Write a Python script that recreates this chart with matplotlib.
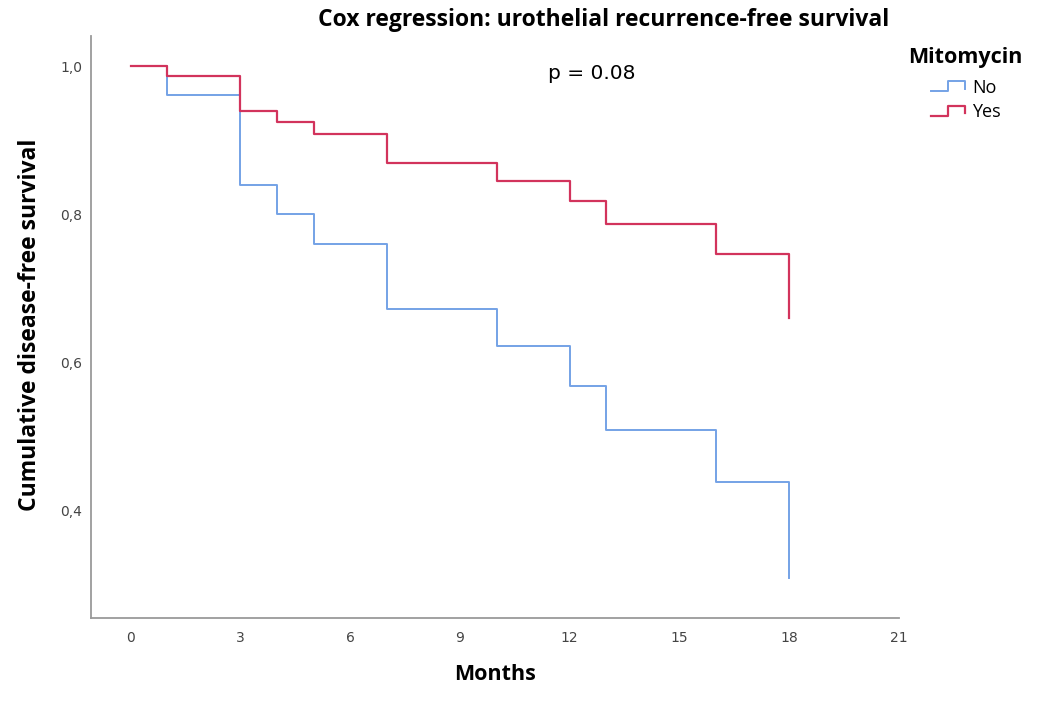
import matplotlib
matplotlib.use("Agg")
import matplotlib.pyplot as plt
from matplotlib.lines import Line2D
from matplotlib.legend_handler import HandlerBase

# Kaplan-Meier style step values
months_no = [0, 1, 3, 4, 5, 7, 10, 12, 13, 16, 18]
surv_no = [1.0, 0.961, 0.840, 0.800, 0.760, 0.672, 0.622, 0.568, 0.509, 0.439, 0.310]
months_yes = [0, 1, 3, 4, 5, 7, 10, 12, 13, 16, 18]
surv_yes = [1.0, 0.987, 0.940, 0.925, 0.908, 0.869, 0.845, 0.818, 0.787, 0.747, 0.660]

x_ticks = [0, 3, 6, 9, 12, 15, 18, 21]
y_ticks = [0.4, 0.6, 0.8, 1.0]
y_tick_labels = ["0,4", "0,6", "0,8", "1,0"]

blue = "#74a2e6"
red = "#d2335c"
font = "Open Sans"


class StepHandler(HandlerBase):
    # little step-shaped legend key like SPSS draws
    def create_artists(self, legend, orig_handle, xdescent, ydescent,
                       width, height, fontsize, trans):
        x0 = -xdescent
        y0 = -ydescent
        xs = [x0, x0 + 0.5 * width, x0 + 0.5 * width, x0 + width, x0 + width]
        ys = [y0 + 0.1 * height, y0 + 0.1 * height, y0 + 0.9 * height,
              y0 + 0.9 * height, y0 + 0.3 * height]
        line = Line2D(xs, ys, color=orig_handle.get_color(),
                      lw=orig_handle.get_linewidth(), transform=trans)
        return [line]


fig = plt.figure(figsize=(10.4, 7.06), dpi=100)
ax = fig.add_axes([0.0872, 0.1246, 0.7772, 0.8244])

l_no, = ax.step(months_no, surv_no, where="post", color=blue, lw=1.4, label="No")
l_yes, = ax.step(months_yes, surv_yes, where="post", color=red, lw=1.6, label="Yes")

ax.set_xlim(-1.095, 21)
ax.set_ylim(0.2556, 1.0405)
ax.set_xticks(x_ticks)
ax.set_yticks(y_ticks)
ax.set_yticklabels(y_tick_labels)
ax.tick_params(length=0, labelsize=10, labelcolor="#444444")
ax.tick_params(axis="y", pad=6)
ax.tick_params(axis="x", pad=9)
for lab in ax.get_xticklabels() + ax.get_yticklabels():
    lab.set_family("DejaVu Sans")

for s in ["top", "right"]:
    ax.spines[s].set_visible(False)
for s in ["left", "bottom"]:
    ax.spines[s].set_color("#9a9a9a")
    ax.spines[s].set_linewidth(1.3)

fig.text(0.58, 0.972, "Cox regression: urothelial recurrence-free survival",
         ha="center", va="center", fontsize=16.5, fontweight="bold", family=font)
fig.text(0.476, 0.044, "Months", ha="center", va="center",
         fontsize=15.5, fontweight="bold", family=font)
fig.text(0.029, 0.54, "Cumulative disease-free survival", ha="center", va="center",
         rotation=90, fontsize=16.5, fontweight="bold", family=font)

ax.text(0.569, 0.896, "p = 0.08", transform=fig.transFigure, ha="center", va="center",
        fontsize=14.5, family="DejaVu Sans")

leg = fig.legend(handles=[l_no, l_yes], labels=["No", "Yes"], title="Mitomycin",
                 loc="upper left", bbox_to_anchor=(0.858, 0.957), frameon=False,
                 handler_map={Line2D: StepHandler()},
                 prop={"family": font, "size": 13}, handlelength=1.9,
                 handletextpad=0.4, labelspacing=0.35)
leg.get_title().set_fontweight("bold")
leg.get_title().set_fontsize(15.5)
leg.get_title().set_family(font)
leg._legend_box.sep = 8

fig.savefig("out.png", dpi=100)
